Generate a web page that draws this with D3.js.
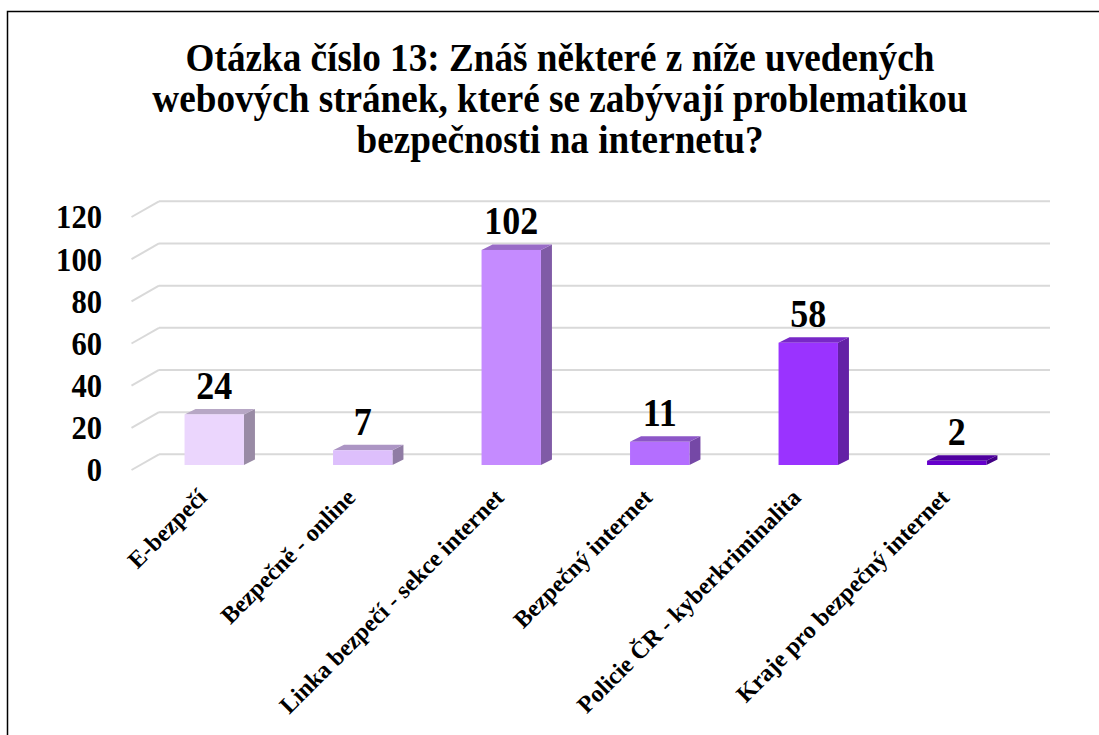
<!DOCTYPE html>
<html>
<head>
<meta charset="utf-8">
<script src="https://cdn.jsdelivr.net/npm/d3@7"></script>
<style>
  body { margin: 0; background: #fff; }
  text { font-family: "Liberation Serif", "Times New Roman", serif; font-weight: bold; fill: #000; }
</style>
</head>
<body>
<script>
const categories = ["E-bezpečí", "Bezpečně - online", "Linka bezpečí - sekce internet",
                    "Bezpečný internet", "Policie ČR - kyberkriminalita", "Kraje pro bezpečný internet"];
const values = [24, 7, 102, 11, 58, 2];
const yTicks = [0, 20, 40, 60, 80, 100, 120];
const titleLines = ["Otázka číslo 13: Znáš některé z níže uvedených",
                    "webových stránek, které se zabývají problematikou",
                    "bezpečnosti na internetu?"];

const colors = ["#ebd6fd", "#ddbffc", "#c58bff", "#b46eff", "#9a33ff", "#6600cc"];

const w = 1099;
const h = 735;

// 3d offsets: floor depth and bar depth
const floorD = [27.5, -15.7];
const barOff = [8.5, -5];
const barD = [11, -5.5];
// the source picture is squeezed sideways a little
const squeeze = 0.9;

const svg = d3.select("body")
              .append("svg")
              .attr("width", w)
              .attr("height", h);

svg.append("rect")
   .attr("x", 7.5).attr("y", 11.5)
   .attr("width", 1200).attr("height", 800)
   .attr("fill", "#fff")
   .attr("stroke", "#000")
   .attr("stroke-width", 1.5);

const x = d3.scaleBand()
            .domain(categories)
            .range([131.5, 1022.5])
            .paddingInner(0.6)
            .paddingOuter(0.3);

const y = d3.scaleLinear()
            .domain([0, 120])
            .range([470, 217]);

// title
svg.append("g")
   .selectAll("text")
   .data(titleLines)
   .join("text")
   .attr("transform", (d, i) => "translate(560," + (71 + i * 41) + ") scale(0.93,1)")
   .attr("text-anchor", "middle")
   .attr("font-size", 40)
   .text(d => d);

// grid: back wall lines + left side diagonals
const grid = svg.append("g")
                .attr("stroke", "#d9d9d9")
                .attr("stroke-width", 2)
                .attr("fill", "none");

grid.selectAll(".back")
    .data(yTicks)
    .join("line")
    .attr("x1", x.range()[0] + floorD[0])
    .attr("x2", x.range()[1] + floorD[0])
    .attr("y1", d => y(d) + floorD[1])
    .attr("y2", d => y(d) + floorD[1]);

grid.selectAll(".side")
    .data(yTicks)
    .join("line")
    .attr("x1", x.range()[0])
    .attr("x2", x.range()[0] + floorD[0])
    .attr("y1", d => y(d))
    .attr("y2", d => y(d) + floorD[1]);

// y axis labels
const yAxis = d3.axisLeft(y)
                .tickValues(yTicks)
                .tickSize(0)
                .tickPadding(0);

const ya = svg.append("g")
              .attr("transform", "translate(102,0)")
              .call(yAxis);
ya.select(".domain").remove();
ya.selectAll("text")
  .attr("font-size", 34)
  .attr("font-family", null)
  .attr("fill", "#000")
  .attr("transform", "scale(" + squeeze + ",1)");

// bars
const bars = svg.append("g")
                .selectAll("g")
                .data(values)
                .join("g");

function shade(c, k) {
  return d3.rgb(c).darker(k).formatHex();
}

bars.each(function(v, i) {
  const g = d3.select(this);
  const xl = x(categories[i]) + barOff[0];
  const xr = xl + x.bandwidth();
  const yb = y(0) + barOff[1];
  const yt = y(v) + barOff[1];

  g.append("polygon")
   .attr("points", [[xr, yb], [xr + barD[0], yb + barD[1]], [xr + barD[0], yt + barD[1]], [xr, yt]].join(" "))
   .attr("fill", shade(colors[i], 1.2));

  g.append("polygon")
   .attr("points", [[xl, yt], [xl + barD[0], yt + barD[1]], [xr + barD[0], yt + barD[1]], [xr, yt]].join(" "))
   .attr("fill", shade(colors[i], 0.7));

  g.append("rect")
   .attr("x", xl)
   .attr("y", yt)
   .attr("width", x.bandwidth())
   .attr("height", yb - yt)
   .attr("fill", colors[i]);

  g.append("text")
   .attr("transform", "translate(" + ((xl + xr) / 2) + "," + (yt + barD[1] - 10) + ") scale(" + squeeze + ",1)")
   .attr("text-anchor", "middle")
   .attr("font-size", 40)
   .text(v);
});

// category labels
svg.append("g")
   .selectAll("text")
   .data(categories)
   .join("text")
   .attr("text-anchor", "end")
   .attr("font-size", 24)
   .attr("transform", d => "translate(" + (x(d) + barOff[0] + x.bandwidth() / 2 - 6) + ",499) rotate(-45)")
   .text(d => d);
</script>
</body>
</html>
